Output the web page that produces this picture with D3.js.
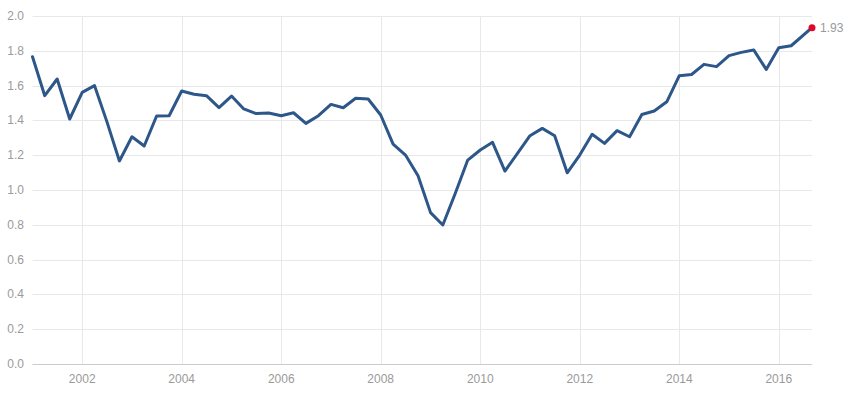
<!DOCTYPE html>
<html>
<head>
<meta charset="utf-8">
<script src="https://cdn.jsdelivr.net/npm/d3@7"></script>
<style>
  html, body { margin: 0; padding: 0; background: #fff; }
  svg text { font-family: "Liberation Sans", Arial, sans-serif; }
</style>
</head>
<body>
<svg id="chart" width="851" height="400"></svg>
<script>
const dates = [
  "2001-01-01","2001-04-01","2001-07-01","2001-10-01",
  "2002-01-01","2002-04-01","2002-07-01","2002-10-01",
  "2003-01-01","2003-04-01","2003-07-01","2003-10-01",
  "2004-01-01","2004-04-01","2004-07-01","2004-10-01",
  "2005-01-01","2005-04-01","2005-07-01","2005-10-01",
  "2006-01-01","2006-04-01","2006-07-01","2006-10-01",
  "2007-01-01","2007-04-01","2007-07-01","2007-10-01",
  "2008-01-01","2008-04-01","2008-07-01","2008-10-01",
  "2009-01-01","2009-04-01","2009-07-01","2009-10-01",
  "2010-01-01","2010-04-01","2010-07-01","2010-10-01",
  "2011-01-01","2011-04-01","2011-07-01","2011-10-01",
  "2012-01-01","2012-04-01","2012-07-01","2012-10-01",
  "2013-01-01","2013-04-01","2013-07-01","2013-10-01",
  "2014-01-01","2014-04-01","2014-07-01","2014-10-01",
  "2015-01-01","2015-04-01","2015-07-01","2015-10-01",
  "2016-01-01","2016-04-01","2016-09-01"
];
const values = [
  1.766, 1.542, 1.638, 1.408,
  1.561, 1.600, 1.393, 1.167,
  1.306, 1.253, 1.425, 1.427,
  1.569, 1.550, 1.542, 1.473,
  1.540, 1.466, 1.439, 1.443,
  1.427, 1.444, 1.383, 1.427,
  1.492, 1.473, 1.527, 1.523,
  1.431, 1.264, 1.201, 1.082,
  0.870, 0.799, 0.980, 1.172,
  1.230, 1.274, 1.109, 1.210,
  1.312, 1.354, 1.312, 1.099,
  1.201, 1.320, 1.268, 1.341,
  1.306, 1.434, 1.454, 1.507,
  1.657, 1.664, 1.722, 1.709,
  1.772, 1.791, 1.805, 1.693,
  1.818, 1.829, 1.933
];
const yTicks = [0.0, 0.2, 0.4, 0.6, 0.8, 1.0, 1.2, 1.4, 1.6, 1.8, 2.0];
const xTickYears = [2002, 2004, 2006, 2008, 2010, 2012, 2014, 2016];
const lastLabel = "1.93";

const parse = d3.timeParse("%Y-%m-%d");
const data = dates.map((d, i) => ({ date: parse(d), value: values[i] }));

const margin = { left: 32.5, right: 39, top: 16, bottom: 36 };
const W = 851, H = 400;
const svg = d3.select("#chart");

const x = d3.scaleTime()
  .domain([data[0].date, data[data.length - 1].date])
  .range([margin.left, W - margin.right]);
const y = d3.scaleLinear()
  .domain([0, 2])
  .range([H - margin.bottom, margin.top]);

// horizontal gridlines
svg.append("g").selectAll("line").data(yTicks.filter(v => v > 0)).join("line")
  .attr("x1", margin.left).attr("x2", W - margin.right)
  .attr("y1", d => Math.round(y(d)) + 0.5).attr("y2", d => Math.round(y(d)) + 0.5)
  .attr("stroke", "#e8e8e8").attr("stroke-width", 1);

// vertical gridlines
const xTickDates = xTickYears.map(yr => new Date(yr, 0, 1));
svg.append("g").selectAll("line").data(xTickDates).join("line")
  .attr("x1", d => Math.round(x(d)) + 0.5).attr("x2", d => Math.round(x(d)) + 0.5)
  .attr("y1", margin.top).attr("y2", H - margin.bottom)
  .attr("stroke", "#e8e8e8").attr("stroke-width", 1);

// baseline
svg.append("line")
  .attr("x1", margin.left).attr("x2", W - margin.right)
  .attr("y1", Math.round(y(0)) + 0.5).attr("y2", Math.round(y(0)) + 0.5)
  .attr("stroke", "#cccccc").attr("stroke-width", 1);

// y labels
svg.append("g").selectAll("text").data(yTicks).join("text")
  .attr("x", 24).attr("y", d => y(d) + 4)
  .attr("text-anchor", "end")
  .attr("font-size", 12).attr("fill", "#9a9a9a")
  .text(d => d3.format(".1f")(d));

// x labels
svg.append("g").selectAll("text").data(xTickDates).join("text")
  .attr("x", d => x(d)).attr("y", 383)
  .attr("text-anchor", "middle")
  .attr("font-size", 12).attr("fill", "#9a9a9a")
  .text(d => d3.timeFormat("%Y")(d));

// line
const line = d3.line().x(d => x(d.date)).y(d => y(d.value));
svg.append("path").datum(data)
  .attr("d", line)
  .attr("fill", "none")
  .attr("stroke", "#2d5689")
  .attr("stroke-width", 3)
  .attr("stroke-linejoin", "round")
  .attr("stroke-linecap", "round");

// last point
const last = data[data.length - 1];
svg.append("circle")
  .attr("cx", x(last.date)).attr("cy", y(last.value))
  .attr("r", 3.5).attr("fill", "#e4062a");
svg.append("text")
  .attr("x", x(last.date) + 8).attr("y", y(last.value) + 4)
  .attr("font-size", 12).attr("fill", "#9a9a9a")
  .text(lastLabel);
</script>
</body>
</html>
